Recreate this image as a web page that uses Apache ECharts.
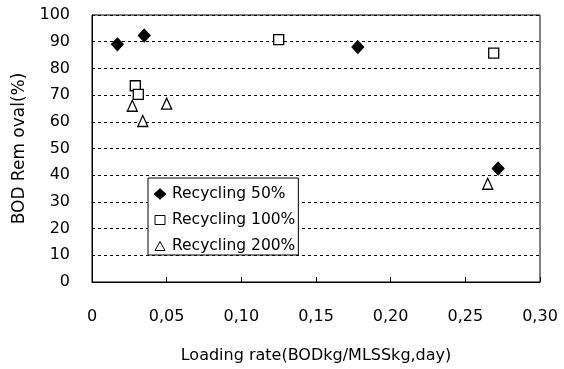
<!DOCTYPE html>
<html>
<head>
<meta charset="utf-8">
<script src="https://cdn.jsdelivr.net/npm/echarts@6/dist/echarts.min.js"></script>
<style>
  html, body { margin: 0; padding: 0; background: #fff; }
  #chart { width: 564px; height: 369px; }
</style>
</head>
<body>
<div id="chart"></div>
<script>
// BOD removal against loading rate for three recycling ratios
const seriesNames = ['Recycling 50%', 'Recycling 100%', 'Recycling 200%'];
const recycling50 = [[0.017, 89], [0.035, 92.3], [0.178, 88], [0.272, 42.5]];
const recycling100 = [[0.029, 73.5], [0.031, 70.3], [0.125, 90.8], [0.269, 85.7]];
const recycling200 = [[0.027, 66], [0.034, 60.3], [0.050, 66.8], [0.265, 36.8]];
const xTicks = [0, 0.05, 0.10, 0.15, 0.20, 0.25, 0.30];
const yTicks = [0, 10, 20, 30, 40, 50, 60, 70, 80, 90, 100];

const FONT = 'DejaVu Sans';
const chart = echarts.init(document.getElementById('chart'), null, { renderer: 'canvas' });

function fmtX(v) {
  return v === 0 ? '0' : v.toFixed(2).replace('.', ',');
}

chart.setOption({
  animation: false,
  backgroundColor: '#fff',
  grid: { left: 92, right: 24, top: 15, bottom: 81, show: true, borderColor: '#000', borderWidth: 1 },
  xAxis: {
    type: 'value',
    min: xTicks[0], max: xTicks[xTicks.length - 1], interval: 0.05,
    name: 'Loading rate(BODkg/MLSSkg,day)',
    nameLocation: 'middle', nameGap: 66,
    nameTextStyle: { fontFamily: FONT, fontSize: 16, color: '#000' },
    axisLine: { lineStyle: { color: '#000', width: 1 } },
    axisTick: { inside: true, length: 5, lineStyle: { color: '#000' } },
    axisLabel: { formatter: fmtX, margin: 27, fontFamily: FONT, fontSize: 16, color: '#000' },
    splitLine: { show: false }
  },
  yAxis: {
    type: 'value',
    min: yTicks[0], max: yTicks[yTicks.length - 1], interval: 10,
    name: 'BOD Rem oval(%)',
    nameLocation: 'middle', nameGap: 62,
    nameTextStyle: { fontFamily: FONT, fontSize: 17, color: '#000', padding: [0, 0, 0, 0] },
    axisLine: { lineStyle: { color: '#000', width: 1 } },
    axisTick: { show: false },
    axisLabel: { margin: 22, fontFamily: FONT, fontSize: 16, color: '#000' },
    splitLine: { show: true, lineStyle: { color: '#000', type: [3, 3], width: 1 } }
  },
  legend: {
    left: 148, top: 178,
    orient: 'vertical',
    backgroundColor: '#fff',
    borderColor: '#000', borderWidth: 1,
    padding: [7, 3, 0, 6],
    itemGap: 8,
    itemWidth: 10, itemHeight: 9,
    textStyle: { fontFamily: FONT, fontSize: 15.5, lineHeight: 18, color: '#000', padding: [0, 0, 0, 2] },
    data: [
      { name: seriesNames[0], icon: 'diamond', itemStyle: { color: '#000', borderColor: '#000' } },
      { name: seriesNames[1], icon: 'rect', itemStyle: { color: '#fff', borderColor: '#000', borderWidth: 1 } },
      { name: seriesNames[2], icon: 'triangle', itemStyle: { color: '#fff', borderColor: '#000', borderWidth: 1 } }
    ]
  },
  series: [
    {
      name: seriesNames[0], type: 'scatter', data: recycling50,
      symbol: 'diamond', symbolSize: [12, 13],
      itemStyle: { color: '#000', borderColor: '#000', borderWidth: 1, opacity: 1 }
    },
    {
      name: seriesNames[1], type: 'scatter', data: recycling100,
      symbol: 'rect', symbolSize: 10,
      itemStyle: { color: '#fff', borderColor: '#000', borderWidth: 1.3, opacity: 1 }
    },
    {
      name: seriesNames[2], type: 'scatter', data: recycling200,
      symbol: 'triangle', symbolSize: [10, 11],
      itemStyle: { color: '#fff', borderColor: '#000', borderWidth: 1.3, opacity: 1 }
    }
  ]
});
</script>
</body>
</html>
